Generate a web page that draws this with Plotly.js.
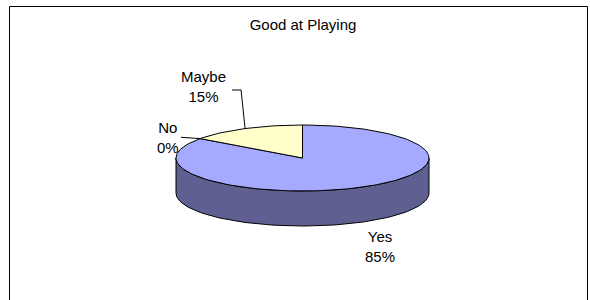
<!DOCTYPE html>
<html><head><meta charset="utf-8">
<script src="https://cdn.plot.ly/plotly-3.0.1.min.js"></script>
<style>html,body{margin:0;padding:0;background:#fff}</style>
</head><body><div id="chart" style="width:590px;height:300px"></div>
<script>
// ---- data ----
const categories = ['Yes', 'No', 'Maybe'];
const values = [85, 0, 15];
const topColors = ['#A6AAFF', '#6666CC', '#FFFFCC'];
const sideColors = ['#5F6091', '#3A3A7A', '#9C9C7C'];
const chartTitle = 'Good at Playing';

// ---- geometry of the 3D pie (layout) ----
const cx = 302.5, cy = 158, rx = 126.5, ry = 33, depth = 35;
const labelPos = { Yes: [380, 246], No: [168, 137], Maybe: [203.5, 86] };
const font = { family: 'Liberation Sans, Arial, sans-serif', size: 15, color: '#000' };

const total = values.reduce((a, b) => a + b, 0);
function pt(deg, dy) {
  const r = deg * Math.PI / 180;
  return [cx + rx * Math.sin(r), cy - ry * Math.cos(r) + (dy || 0)];
}
function arc(a0, a1, dy) {
  const n = Math.max(2, Math.ceil(Math.abs(a1 - a0) / 2));
  const out = [];
  for (let i = 0; i <= n; i++) out.push(pt(a0 + (a1 - a0) * i / n, dy));
  return out;
}
const traces = [];
const annotations = [];
let start = 0;
const slices = values.map((v, i) => {
  const sweep = v / total * 360;
  const s = { i, a0: start, a1: start + sweep };
  start += sweep;
  return s;
});
// side walls (front half: angles 90..270)
slices.forEach(s => {
  const a0 = Math.max(s.a0, 90), a1 = Math.min(s.a1, 270);
  if (a1 <= a0) return;
  const top = arc(a0, a1, 0);
  const bot = arc(a1, a0, depth);
  const poly = top.concat(bot, [top[0]]);
  traces.push({
    type: 'scatter', mode: 'lines', x: poly.map(p => p[0]), y: poly.map(p => p[1]),
    fill: 'toself', fillcolor: sideColors[s.i], line: { color: '#000', width: 1 },
    hoverinfo: 'skip', showlegend: false
  });
});
// top faces
slices.forEach(s => {
  if (s.a1 - s.a0 <= 0) return;
  const pts = [[cx, cy]].concat(arc(s.a0, s.a1, 0), [[cx, cy]]);
  traces.push({
    type: 'scatter', mode: 'lines', x: pts.map(p => p[0]), y: pts.map(p => p[1]),
    fill: 'toself', fillcolor: topColors[s.i], line: { color: '#000', width: 1 },
    hoverinfo: 'skip', showlegend: false
  });
});
// labels and leader lines
slices.forEach(s => {
  const cat = categories[s.i];
  const pct = Math.round(values[s.i] / total * 100);
  const [lx, ly] = labelPos[cat];
  annotations.push({
    x: lx, y: ly, xref: 'x', yref: 'y', text: cat + '<br>' + pct + '%',
    showarrow: false, font: font, align: 'center', xanchor: 'center', yanchor: 'middle'
  });
  const mid = (s.a0 + s.a1) / 2;
  const e = pt(mid, 0);
  if (cat === 'Maybe') {
    traces.push({ type: 'scatter', mode: 'lines', x: [e[0], e[0] - 4, lx + 28.5], y: [e[1], ly + 4, ly + 4],
      line: { color: '#000', width: 1 }, hoverinfo: 'skip', showlegend: false });
  } else if (cat === 'No') {
    traces.push({ type: 'scatter', mode: 'lines', x: [e[0], lx + 13], y: [e[1], e[1] - 1.3],
      line: { color: '#000', width: 1 }, hoverinfo: 'skip', showlegend: false });
  }
});

const layout = {
  width: 590, height: 300, margin: { l: 0, r: 0, t: 0, b: 0 },
  paper_bgcolor: '#fff', plot_bgcolor: '#fff', showlegend: false,
  title: { text: chartTitle, font: font, x: 303 / 590, xanchor: 'center', y: 1 - 25 / 300, yanchor: 'middle', yref: 'container' },
  xaxis: { range: [0, 590], visible: false, fixedrange: true },
  yaxis: { range: [300, 0], visible: false, fixedrange: true },
  shapes: [{ type: 'rect', xref: 'x', yref: 'y', x0: 9.5, x1: 587.5, y0: 6.5, y1: 320,
    line: { color: '#000', width: 1 }, fillcolor: 'rgba(0,0,0,0)', layer: 'below' }],
  annotations: annotations
};
Plotly.newPlot('chart', traces, layout, { staticPlot: true, displayModeBar: false });
</script></body></html>
